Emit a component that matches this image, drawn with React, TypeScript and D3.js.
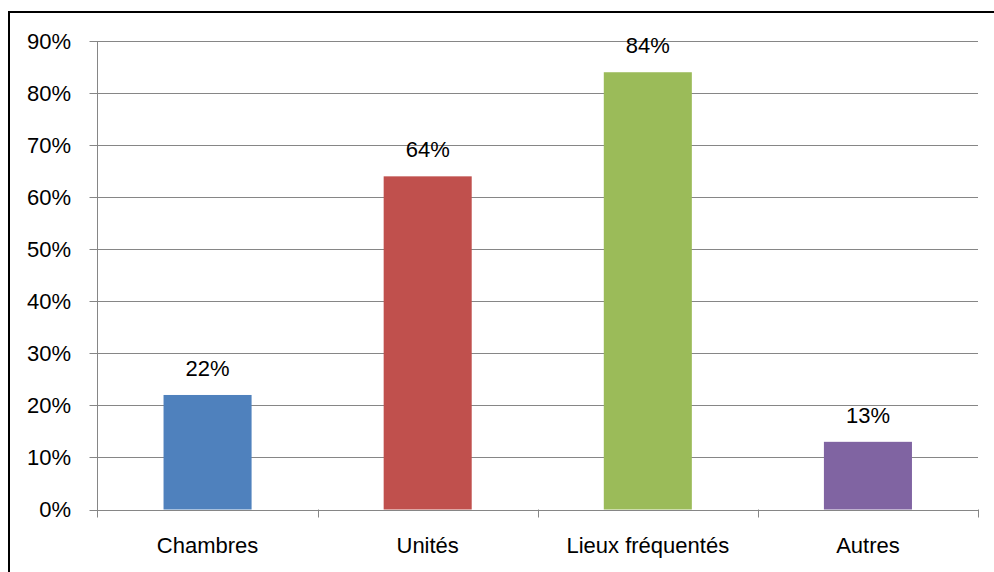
import React from "react";
import * as d3 from "d3";

const categories = ["Chambres", "Unités", "Lieux fréquentés", "Autres"];
const values = [0.22, 0.64, 0.84, 0.13];
const colors = ["#4F81BD", "#C0504D", "#9BBB59", "#8064A2"];
const yTicks = [0, 0.1, 0.2, 0.3, 0.4, 0.5, 0.6, 0.7, 0.8, 0.9];

export default function App() {
  const W = 994, H = 572;
  const left = 97.5, right = 978, top = 41, bottom = 509.5;
  const x = d3.scaleBand<string>().domain(categories).range([left, right]).paddingInner(0.6).paddingOuter(0.3);
  const xb = d3.scaleBand<string>().domain(categories).range([left, right]);
  const y = d3.scaleLinear().domain([0, 0.9]).range([bottom, top]);
  const font = "Liberation Sans, Arial, sans-serif";
  const fs = 22;
  const fmt = d3.format(".0%");
  return (
    <svg width={W} height={H} style={{ position: "absolute", left: 0, top: 0, background: "#fff" }}>
      <rect x={0} y={0} width={W} height={H} fill="#fff" />
      <rect x={9} y={12} width={W + 10} height={H + 10} fill="none" stroke="#000" strokeWidth={2} />
      {yTicks.map((t) => (
        <g key={t}>
          <line x1={left - 8} x2={right} y1={Math.round(y(t)) + 0.5} y2={Math.round(y(t)) + 0.5} stroke="#868686" strokeWidth={1} />
          <text x={71} y={y(t)} dy="0.35em" textAnchor="end" fontFamily={font} fontSize={fs} fill="#000">{fmt(t)}</text>
        </g>
      ))}
      <line x1={left} x2={left} y1={top} y2={bottom + 8} stroke="#868686" />
      {categories.map((c) => (
        <line key={"t" + c} x1={Math.round(xb(c)! + xb.bandwidth()) + 0.5} x2={Math.round(xb(c)! + xb.bandwidth()) + 0.5} y1={bottom} y2={bottom + 8} stroke="#868686" />
      ))}
      {categories.map((c, i) => (
        <g key={c}>
          <rect x={x(c)} y={y(values[i])} width={x.bandwidth()} height={bottom - y(values[i])} fill={colors[i]} />
          <text x={x(c)! + x.bandwidth() / 2} y={y(values[i]) - 19} textAnchor="middle" fontFamily={font} fontSize={fs} fill="#000">{fmt(values[i])}</text>
          <text x={xb(c)! + xb.bandwidth() / 2} y={553} textAnchor="middle" fontFamily={font} fontSize={fs} fill="#000">{c}</text>
        </g>
      ))}
    </svg>
  );
}
